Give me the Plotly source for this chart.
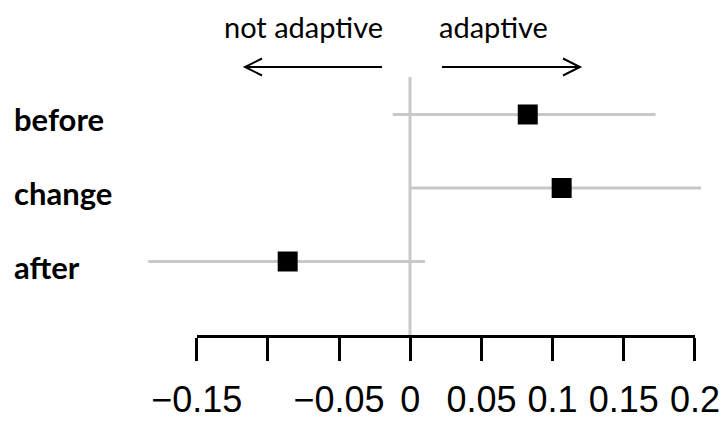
import plotly.graph_objects as go

# ---- data ----
categories = ["before", "change", "after"]
cat_pos = [3, 2, 1]
estimates = [0.0827, 0.1065, -0.0859]
ci_low = [-0.0121, 0.0, -0.1838]
ci_high = [0.1725, 0.2044, 0.0105]
tick_vals = [-0.15, -0.10, -0.05, 0.0, 0.05, 0.10, 0.15, 0.20]
tick_text = ["\u22120.15", "", "\u22120.05", "0", "0.05", "0.1", "0.15", "0.2"]

W, H = 723, 423
ML, MR, MT, MB = 0, 0, 77, 88
PH = H - MT - MB

GRAY = "#c8c8c8"
fig = go.Figure()

# confidence interval lines
for c, p, lo, hi in zip(categories, cat_pos, ci_low, ci_high):
    fig.add_trace(go.Scatter(x=[lo, hi], y=[p, p], mode="lines",
                             line=dict(color=GRAY, width=3),
                             showlegend=False, hoverinfo="skip"))

# point estimates
fig.add_trace(go.Scatter(x=estimates, y=cat_pos, mode="markers",
                         marker=dict(symbol="square", size=20, color="black",
                                     line=dict(width=0)),
                         text=categories, showlegend=False))

# dummy trace for the drawn axis
fig.add_trace(go.Scatter(x=[None], y=[None], xaxis="x2", yaxis="y",
                         showlegend=False))

# zero reference line
fig.add_shape(type="line", xref="x", yref="paper", x0=0, x1=0, y0=0, y1=1,
              line=dict(color=GRAY, width=3), layer="below")

def px2paper(px, py):
    return px / W, (H - MB - py) / PH

def arrow(x_tail, x_tip, y):
    d = 17 if x_tip > x_tail else -17
    a1 = px2paper(x_tip - d, y - 8.5)
    tip = px2paper(x_tip, y)
    a2 = px2paper(x_tip - d, y + 8.5)
    t = px2paper(x_tail, y)
    path = f"M{t[0]},{t[1]} L{tip[0]},{tip[1]} M{a1[0]},{a1[1]} L{tip[0]},{tip[1]} L{a2[0]},{a2[1]}"
    fig.add_shape(type="path", xref="paper", yref="paper", path=path,
                  line=dict(color="black", width=2))

arrow(382, 245, 67)
arrow(442, 580, 67)

# direction labels
for txt, cx in [("not adaptive", 303), ("adaptive", 493)]:
    px_, py_ = px2paper(cx, 26)
    fig.add_annotation(text=txt, x=px_, y=py_, xref="paper", yref="paper",
                       xanchor="center", yanchor="middle", showarrow=False,
                       font=dict(family="Lato", size=29, color="black"))

# row labels
for c, p in zip(categories, cat_pos):
    fig.add_annotation(text=f"<b>{c}</b>", x=12 / W, y=p, xref="paper", yref="y",
                       xanchor="left", yanchor="middle", yshift=-5, showarrow=False,
                       font=dict(family="Lato", size=31, color="black"))

fig.update_layout(
    width=W, height=H,
    margin=dict(l=ML, r=MR, t=MT, b=MB, autoexpand=False),
    paper_bgcolor="white", plot_bgcolor="rgba(0,0,0,0)",
    xaxis=dict(range=[-410 / 1424, 313 / 1424], visible=False),
    xaxis2=dict(domain=[196.7 / W, 695 / W], anchor="y",
                range=[-0.15005, 0.20005],
                tickmode="array", tickvals=tick_vals, ticktext=tick_text,
                showline=True, linecolor="black", linewidth=3,
                ticks="outside", ticklen=23, tickwidth=3, tickcolor="black",
                ticklabelstandoff=8,
                showgrid=False, zeroline=False,
                tickfont=dict(family="Liberation Sans", size=36, color="black")),
    yaxis=dict(range=[0, 3.51], visible=False),
    showlegend=False,
)

fig.write_html("out.html")
